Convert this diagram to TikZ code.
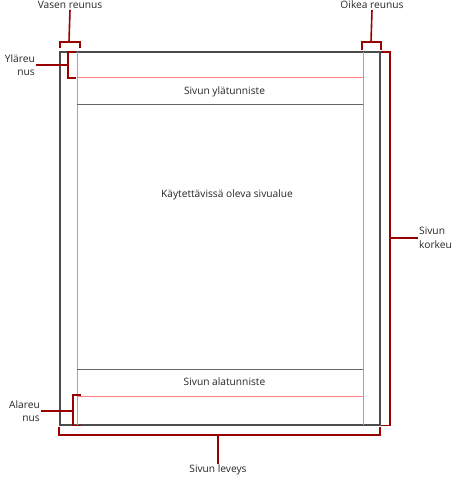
\documentclass[tikz,border=0pt]{standalone}
\usepackage{fontspec}
\setmainfont{Open Sans}
\begin{document}
\begin{tikzpicture}[x=1pt,y=-1pt,
  lbl/.style={font=\fontsize{10.2}{13.5}\selectfont, text=black!85, inner sep=1pt, align=center},
  pagebox/.style={draw=black!70, line width=1.1pt},
  marginline/.style={draw=red!50!white, line width=0.6pt},
  sepline/.style={draw=black!60, line width=0.6pt},
  brk/.style={draw=red!60!black, line width=1.6pt}]
\useasboundingbox (0,0) rectangle (454,478);
% page
\draw[pagebox] (60,52) rectangle (380,425);
% margin lines
\draw[marginline] (77,52) -- (77,425);
\draw[marginline] (363,52) -- (363,425);
\draw[marginline] (77,77) -- (363,77);
\draw[marginline] (77,396) -- (363,396);
% header/footer separators
\draw[sepline] (77,104) -- (363,104);
\draw[sepline] (77,369) -- (363,369);
% texts
\node[lbl] (hdr) at (224.5,92) {Sivun ylätunniste};
\node[lbl] (body) at (227,195) {Käytettävissä oleva sivualue};
\node[lbl] (ftr) at (224.5,382) {Sivun alatunniste};
% labels
\node[lbl, anchor=center] (lm) at (70,5) {Vasen reunus};
\node[lbl, anchor=center] (rm) at (372,5) {Oikea reunus};
\node[lbl, anchor=east, align=right] (tm) at (36,65) {Yläreu\\nus};
\node[lbl, anchor=east, align=right] (bm) at (41,411) {Alareu\\nus};
\node[lbl, anchor=west, align=left] (ph) at (418,238) {Sivun\\korkeu};
\node[lbl, anchor=center] (pw) at (218,470) {Sivun leveys};
% bracket coordinates
\coordinate (lmb) at (69,42);
\coordinate (rmb) at (371,42);
\coordinate (tmb) at (68,65);
\coordinate (bmb) at (73,411);
\coordinate (phb) at (390,238);
\coordinate (pwb) at (218,435);
% brackets
\draw[brk] (60,48) -- (60,42) -- (80,42) -- (80,48);
\draw[brk] (362,50) -- (362,42) -- (381,42) -- (381,50);
\draw[brk] (76,52) -- (68,52) -- (68,78) -- (76,78);
\draw[brk] (81,395) -- (73,395) -- (73,425.5) -- (81,425.5);
\draw[brk] (381,52) -- (390,52) -- (390,425.5) -- (381,425.5);
\draw[brk] (59,427) -- (59,435) -- (380,435) -- (380,427);
% stems
\draw[brk] (lmb) -- (lm.south);
\draw[brk] (rmb) -- (rm.south);
\draw[brk] (tmb) -- (tm.east);
\draw[brk] (bmb) -- (bm.east);
\draw[brk] (phb) -- (ph.west);
\draw[brk] (pwb) -- (pw.north);
\end{tikzpicture}
\end{document}
